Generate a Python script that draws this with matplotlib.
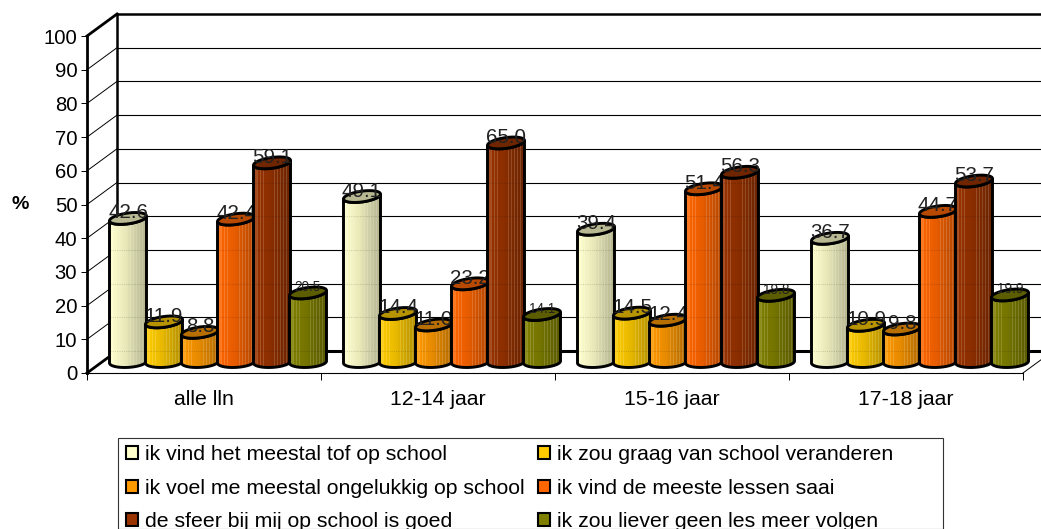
import numpy as np
import matplotlib
matplotlib.use('Agg')
import matplotlib.pyplot as plt
from matplotlib.patches import Polygon, Patch, Rectangle

plt.rcParams['font.family'] = ['Liberation Sans', 'DejaVu Sans']

categories = ['alle lln', '12-14 jaar', '15-16 jaar', '17-18 jaar']
series_names = ['ik vind het meestal tof op school',
                'ik zou graag van school veranderen',
                'ik voel me meestal ongelukkig op school',
                'ik vind de meeste lessen saai',
                'de sfeer bij mij op school is goed',
                'ik zou liever geen les meer volgen']
tof = [42.6, 49.1, 39.4, 36.7]
veranderen = [11.9, 14.4, 14.5, 10.9]
ongelukkig = [8.8, 11.0, 12.4, 9.8]
saai = [42.4, 23.2, 51.4, 44.7]
sfeer = [59.1, 65.0, 56.3, 53.7]
geen_les = [20.5, 14.1, 19.8, 19.9]
all_series = [tof, veranderen, ongelukkig, saai, sfeer, geen_les]
colors = ['#FFFFCC', '#FFCC00', '#FF9900', '#FF6600', '#993300', '#808000']
y_ticks = list(range(0, 101, 10))

W, H = 1041, 529
fig = plt.figure(figsize=(W / 100, H / 100), dpi=100)
ax = fig.add_axes([87 / W, 1 - 373 / H, 936 / W, 337 / H])
ax.set_xlim(0, 4)
ax.set_ylim(0, 100)
ax.patch.set_visible(False)

# pixels -> data units
px = 4 / 936
py = 100 / 337
dx, dy = 30 * px, 22 * py

for s in ['top', 'right']:
    ax.spines[s].set_visible(False)
ax.spines['left'].set_linewidth(2)
ax.spines['bottom'].set_linewidth(0.8)
ax.set_yticks(y_ticks)
ax.set_xticks(range(5))
ax.set_xticklabels([])
ax.set_xticks([i + 0.5 for i in range(4)], minor=True)
ax.set_xticklabels(categories, minor=True)
ax.tick_params(axis='y', length=4, width=0.7, pad=3, labelsize=14.6)
ax.tick_params(axis='x', which='major', length=5, width=0.7)
ax.tick_params(axis='x', which='minor', length=0, pad=12, labelsize=15.3)
ax.set_ylabel('%', rotation=0, fontsize=14, fontweight='bold', va='center')
ax.yaxis.set_label_coords(-67 / 936, 0.50)

# walls
for t in y_ticks[1:-1]:
    ax.plot([dx, 4 + dx], [t + dy, t + dy], color='k', lw=0.8, clip_on=False, zorder=1)
    ax.plot([0, dx], [t, t + dy], color='k', lw=0.7, clip_on=False, zorder=1)
ax.plot([dx, 4 + dx], [dy, dy], color='k', lw=2.2, clip_on=False, zorder=1)
ax.plot([dx, 4 + dx], [100 + dy, 100 + dy], color='k', lw=1.8, clip_on=False, zorder=1)
ax.plot([dx, dx], [dy, 100 + dy], color='k', lw=1.8, clip_on=False, zorder=1)
ax.plot([0, dx], [100, 100 + dy], color='k', lw=2, clip_on=False, zorder=1)
ax.plot([0, dx], [0, dy], color='k', lw=2, clip_on=False, zorder=1)
ax.plot([4, 4 + dx], [0, dy], color='k', lw=0.7, clip_on=False, zorder=1)


def shade_column(color):
    base = np.array(matplotlib.colors.to_rgb(color))
    n = 38
    t = np.linspace(0, 1, n)
    f = np.interp(t, [0, 0.45, 1], [1.0, 0.9, 0.7])
    col = base * f[:, None]
    col[:3] = col[:3] * 0.88 + 0.12
    for i in range(n):
        if (i < 10 or 20 < i < 35) and i % 3 == 0:
            col[i] = col[i] * 0.84 + 0.16
    return col[None, :, :]


def cylinder(xc, value, color, z):
    hw = 18.5 * px
    ry = 5.4 * py
    base = dy / 2
    top = value + base
    a = np.linspace(0, np.pi, 40)
    ex = np.cos(a) * hw
    tilt_top = 2.4 * py / hw
    tilt_bot = 1.0 * py / hw
    top_back = np.c_[xc + ex, top + np.sin(a) * ry + ex * tilt_top]
    top_front = np.c_[xc - ex, top - np.sin(a) * ry - ex * tilt_top]
    bot_front = np.c_[xc - ex, base - np.sin(a) * ry - ex * tilt_bot]
    body = np.r_[top_front, bot_front[::-1]]
    ax.add_patch(Polygon(body, closed=True, fc='none', ec='k', lw=2.1, zorder=z + 0.2, clip_on=False))
    im = ax.imshow(shade_column(color), extent=[xc - hw, xc + hw, base - ry - 2, top + ry + 2],
                   aspect='auto', interpolation='nearest', zorder=z + 0.1)
    clip = Polygon(body, closed=True, transform=ax.transData)
    im.set_clip_path(clip)
    im.set_clip_box(fig.bbox)
    # back wall grid shows faintly through the bars
    for t in y_ticks[:-1]:
        if t + dy < top - ry:
            line, = ax.plot([xc - hw, xc + hw], [t + dy, t + dy], color='k', lw=0.8, alpha=0.14,
                            ls=(0, (1, 1)), zorder=z + 0.15)
            line.set_clip_path(Polygon(body, closed=True, transform=ax.transData))
            line.set_clip_box(fig.bbox)
    lid_col = np.array(matplotlib.colors.to_rgb(color)) * 0.72
    ax.add_patch(Polygon(np.r_[top_back, top_front], closed=True, fc=lid_col, ec='k', lw=2.1,
                         zorder=z + 0.3, clip_on=False))
    return top


z = 2
for g in range(len(categories)):
    for j, values in enumerate(all_series):
        xc = g + (41 + 36 * j) * px
        top = cylinder(xc, values[g], colors[j], z)
        # the last series has a smaller label in the original
        fs = 9.8 if j == 5 else 14.8
        ax.text(xc, top + 5.5 * py, f'{values[g]:.1f}', ha='center', va='center',
                fontsize=fs, color='#222222', zorder=z + 0.5, clip_on=False)
        z += 1

ax.set_xlim(0, 4)
ax.set_ylim(0, 100)

# legend box runs off the bottom of the picture
fig.add_artist(Rectangle((117.5 / W, 0), 825 / W, 1 - 437.5 / H, transform=fig.transFigure,
                         fc='white', ec='#333333', lw=0.8, clip_on=False))
# legend fills by column, the original reads by row
order = [0, 2, 4, 1, 3, 5]
handles = [Patch(fc=colors[i], ec='k', lw=1.5) for i in order]
fig.legend(handles, [series_names[i] for i in order], ncol=2, loc='upper left', frameon=False,
           fontsize=15.35, bbox_to_anchor=(122 / W, 1 - 441 / H), borderaxespad=0, borderpad=0.2,
           handlelength=0.57, handleheight=0.57, handletextpad=0.33, columnspacing=0.62,
           labelspacing=0.68)

fig.savefig('out.png', dpi=100)
